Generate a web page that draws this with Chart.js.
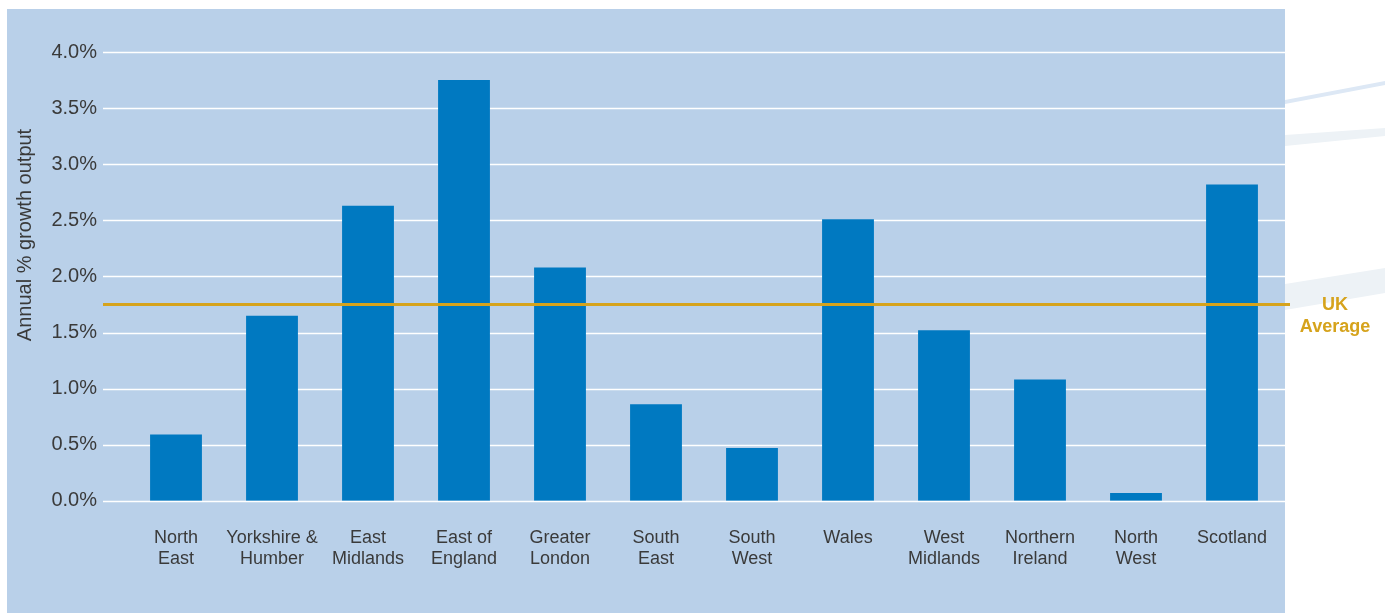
<!DOCTYPE html>
<html>
<head>
<meta charset="utf-8">
<script src="https://cdn.jsdelivr.net/npm/chart.js@4"></script>
<style>
  html, body { margin: 0; padding: 0; background: #fff; }
  #wrap { width: 1385px; height: 613px; position: relative; }
</style>
</head>
<body>
<div id="wrap"><canvas id="growth-Chart"></canvas></div>
<script>
const regions = [
  ["North", "East"], ["Yorkshire &", "Humber"], ["East", "Midlands"], ["East of", "England"],
  ["Greater", "London"], ["South", "East"], ["South", "West"], "Wales",
  ["West", "Midlands"], ["Northern", "Ireland"], ["North", "West"], "Scotland",
];
const growth = [0.59, 1.65, 2.63, 3.75, 2.08, 0.86, 0.47, 2.51, 1.52, 1.08, 0.07, 2.82];
const ukAverage = 1.75;
const yTitle = "Annual % growth output";
const avgLabel = ["UK", "Average"];

const textColor = "#3a3a3a";
const gold = "#d6a31c";

// panel, background swooshes, grid, average line and side texts
const backdrop = {
  id: "backdrop",
  beforeDraw(chart) {
    const c = chart.ctx;
    const y = chart.scales.y;
    c.save();
    c.fillStyle = "#fff";
    c.fillRect(0, 0, chart.width, chart.height);
    // faint swooshes on the right
    c.fillStyle = "#dde8f5";
    c.beginPath();
    c.moveTo(1285, 100); c.lineTo(1385, 81); c.lineTo(1385, 85); c.lineTo(1285, 104);
    c.fill();
    c.fillStyle = "#edf2f6";
    c.beginPath();
    c.moveTo(1285, 135); c.lineTo(1385, 128); c.lineTo(1385, 136); c.lineTo(1285, 146);
    c.fill();
    c.beginPath();
    c.moveTo(1285, 284); c.lineTo(1385, 268); c.lineTo(1385, 293); c.lineTo(1285, 310);
    c.fill();
    // panel
    c.fillStyle = "#b9d0e9";
    c.fillRect(7, 9, 1278, 604);
    // grid
    c.strokeStyle = "#ffffff";
    c.lineWidth = 1.6;
    y.ticks.forEach(t => {
      const py = Math.round(y.getPixelForValue(t.value)) + 0.5;
      c.beginPath();
      c.moveTo(103, py);
      c.lineTo(1285, py);
      c.stroke();
    });
    c.restore();
  },
  afterDatasetsDraw(chart) {
    const c = chart.ctx;
    const py = chart.scales.y.getPixelForValue(ukAverage);
    c.save();
    c.strokeStyle = gold;
    c.lineWidth = 3;
    c.beginPath();
    c.moveTo(103, py);
    c.lineTo(1290, py);
    c.stroke();
    c.restore();
  },
  afterDraw(chart) {
    const c = chart.ctx;
    const py = chart.scales.y.getPixelForValue(ukAverage);
    c.save();
    c.fillStyle = gold;
    c.font = "bold 18px 'Liberation Sans', Arial, sans-serif";
    c.textAlign = "center";
    c.textBaseline = "middle";
    c.fillText(avgLabel[0], 1335, py + 1);
    c.fillText(avgLabel[1], 1335, py + 23);
    c.fillStyle = textColor;
    c.font = "20px 'Liberation Sans', Arial, sans-serif";
    c.translate(25, 235);
    c.rotate(-Math.PI / 2);
    c.fillText(yTitle, 0, 0);
    c.restore();
  },
};

const ctx = document.getElementById("growth-Chart");
const chart = new Chart(ctx, {
  type: "bar",
  data: {
    labels: regions,
    datasets: [
      {
        label: "Growth",
        data: growth,
        backgroundColor: "#0079c1",
        barPercentage: 0.54,
        categoryPercentage: 1,
      },
    ],
  },
  options: {
    responsive: true,
    maintainAspectRatio: false,
    animation: false,
    layout: { padding: { top: 52, right: 105, bottom: 17, left: 0 } },
    plugins: {
      legend: { display: false },
      tooltip: { enabled: false },
    },
    scales: {
      x: {
        grid: { display: false, drawTicks: false },
        border: { display: false },
        ticks: {
          color: textColor,
          font: { family: "'Liberation Sans', Arial, sans-serif", size: 18 },
          padding: 26,
          maxRotation: 0,
          autoSkip: false,
        },
      },
      y: {
        min: 0,
        max: 4,
        grid: { display: false, drawTicks: false },
        border: { display: false },
        afterFit: (s) => { s.width = 128; },
        ticks: {
          stepSize: 0.5,
          color: textColor,
          font: { family: "'Liberation Sans', Arial, sans-serif", size: 20 },
          padding: 31,
          callback: (v) => v.toFixed(1) + "%",
        },
      },
    },
  },
  plugins: [backdrop],
});
</script>
</body>
</html>
